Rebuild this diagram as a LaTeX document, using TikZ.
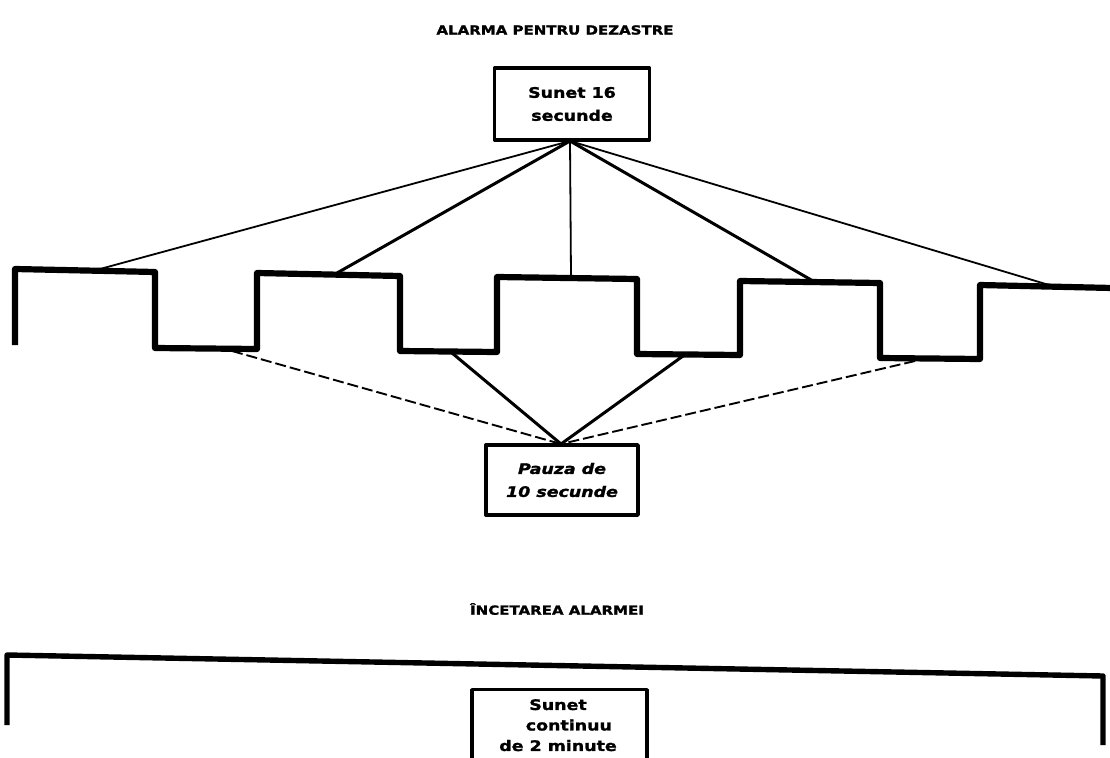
\documentclass[tikz,border=0pt]{standalone}
\usepackage{fontspec}
\newfontfamily\heavy{DejaVu Sans}[FakeStretch=1.2, FakeBold=1.6]
\tikzset{
  lbl/.style={font=\heavy\bfseries\fontsize{14.5}{23}\selectfont, align=center, inner sep=0pt},
  lblit/.style={font=\heavy\bfseries\itshape\fontsize{14.5}{23}\selectfont, align=center, inner sep=0pt},
  ttl/.style={font=\heavy\bfseries\fontsize{12.5}{14}\selectfont, inner sep=0pt},
  box/.style={draw, line width=3.4pt, line join=round, inner sep=0pt},
  wave/.style={line width=6.2pt, line join=round},
  thick link/.style={line width=3pt},
  thin link/.style={line width=1.8pt},
  broken link/.style={line width=1.9pt, dash pattern=on 11pt off 4pt}
}
\begin{document}
\begin{tikzpicture}[x=1pt,y=-1pt]
\clip (0,0) rectangle (1110,757);
\fill[white] (0,0) rectangle (1110,757);

% titles
\node[ttl] (t1) at (555,30) {ALARMA PENTRU DEZASTRE};
\node[ttl] (t2) at (557,609) {ÎNCETAREA ALARMEI};

% top box
\node[box, minimum width=155pt, minimum height=72pt] (sunet) at (572,104) {};
\node[lbl] (sunettext) at (sunet.center) {Sunet 16\\secunde};

% bottom box
\node[box, minimum width=152pt, minimum height=70pt] (pauza) at (562,480) {};
\node[lblit] (pauzatext) at (pauza.center) {Pauza de\\10 secunde};

% square wave
\draw[wave] (15,345) -- (15,269) -- (155,272) -- (155,348) -- (257,349)
  -- (257,273) -- (400,276) -- (400,351) -- (497,352) -- (497,277)
  -- (637,279) -- (637,354) -- (740,355) -- (740,281) -- (880,283)
  -- (880,358) -- (980,359) -- (980,285) -- (1112,288);

% attach points on the wave
\coordinate (h1) at (100,269);
\coordinate (h2) at (337,273);
\coordinate (h3) at (571,277);
\coordinate (h4) at (813,281);
\coordinate (h5) at (1049,285);
\coordinate (l1) at (232,351);
\coordinate (l2) at (452,353);
\coordinate (l3) at (683,356);
\coordinate (l4) at (915,361);
\coordinate (ta) at (570,141);
\coordinate (ba) at (561,444);

% connectors from top box
\draw[thin link] (ta) -- (h1);
\draw[thick link] (ta) -- (h2);
\draw[thin link] (ta) -- (h3);
\draw[thick link] (ta) -- (h4);
\draw[thin link] (ta) -- (h5);

% connectors to bottom box
\draw[broken link] (l1) -- (ba);
\draw[thick link] (l2) -- (ba);
\draw[thick link] (l3) -- (ba);
\draw[broken link] (l4) -- (ba);

% continuous tone
\draw[wave, line width=5.4pt] (7,725) -- (7,655) -- (1103,676) -- (1103,745);
\node[box, minimum width=175pt, minimum height=100pt, anchor=north] (cont) at (559.5,688) {};
\node[lbl, anchor=north, font=\heavy\bfseries\fontsize{14.5}{20.5}\selectfont] (conttext) at (558,699) {Sunet\\\hspace*{1.5em}continuu\\de 2 minute};
\end{tikzpicture}
\end{document}
